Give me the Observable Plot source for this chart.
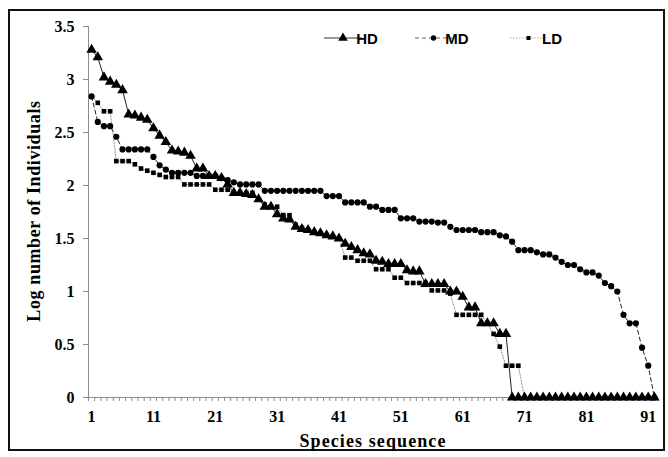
<!DOCTYPE html>
<html>
<head>
<meta charset="utf-8">
<script src="https://cdn.jsdelivr.net/npm/d3@7"></script>
<script src="https://cdn.jsdelivr.net/npm/@observablehq/plot@0.6"></script>
<style>
  html, body { margin: 0; padding: 0; background: #fff; }
  #chart { position: relative; width: 668px; height: 457px; }
</style>
</head>
<body>
<div id="chart"></div>
<script>
// Species rank (category) sequence
const ranks = d3.range(1, 93);
// Axis tick labels
const xTicks = [1, 11, 21, 31, 41, 51, 61, 71, 81, 91];
const yTicks = [0, 0.5, 1, 1.5, 2, 2.5, 3, 3.5];
const seriesNames = ["HD", "MD", "LD"];

// Log number of individuals per rank
const HD = [3.28,3.21,3.02,2.98,2.95,2.90,2.67,2.66,2.64,2.62,
            2.54,2.47,2.41,2.33,2.32,2.31,2.28,2.16,2.16,2.09,
            2.09,2.07,2.01,1.93,1.93,1.92,1.91,1.87,1.80,1.80,
            1.73,1.69,1.68,1.61,1.59,1.58,1.56,1.55,1.53,1.52,
            1.50,1.45,1.42,1.39,1.36,1.35,1.29,1.28,1.26,1.26,
            1.26,1.20,1.19,1.19,1.07,1.07,1.07,1.07,1.00,1.00,
            0.95,0.85,0.85,0.70,0.70,0.70,0.60,0.60,0,0,
            0,0,0,0,0,0,0,0,0,0,
            0,0,0,0,0,0,0,0,0,0,
            0,0];
const MD = [2.84,2.60,2.56,2.56,2.46,2.34,2.34,2.34,2.34,2.34,
            2.27,2.19,2.15,2.12,2.12,2.12,2.12,2.09,2.09,2.09,
            2.09,2.07,2.05,2.03,2.01,2.01,2.01,2.01,1.95,1.95,
            1.95,1.95,1.95,1.95,1.95,1.95,1.95,1.95,1.90,1.90,
            1.90,1.84,1.84,1.84,1.84,1.80,1.80,1.77,1.77,1.77,
            1.69,1.69,1.69,1.66,1.66,1.66,1.65,1.65,1.61,1.58,
            1.58,1.58,1.58,1.56,1.56,1.56,1.53,1.52,1.47,1.39,
            1.39,1.39,1.37,1.35,1.35,1.32,1.28,1.25,1.25,1.21,
            1.18,1.18,1.15,1.08,1.05,1.00,0.78,0.70,0.70,0.47,
            0.30,0];
const LD = [2.84,2.78,2.70,2.70,2.23,2.23,2.23,2.20,2.16,2.14,
            2.12,2.10,2.08,2.08,2.08,2.01,2.01,2.01,2.01,2.01,
            1.96,1.96,1.96,1.93,1.93,1.93,1.93,1.87,1.82,1.80,
            1.80,1.72,1.72,1.63,1.60,1.58,1.56,1.55,1.53,1.52,
            1.50,1.32,1.32,1.29,1.29,1.29,1.21,1.21,1.21,1.13,
            1.13,1.08,1.08,1.08,1.08,1.01,1.01,1.01,0.98,0.78,
            0.78,0.78,0.78,0.78,0.70,0.60,0.48,0.30,0.30,0.30,
            0,0,0,0,0,0,0,0,0,0,
            0,0,0,0,0,0,0,0,0,0,
            0,0];

const rows = (vals) => ranks.map((r, i) => ({rank: r, value: vals[i]}));
const hd = rows(HD), md = rows(MD), ld = rows(LD);
const xBounds = d3.range(0, 93).map(d => d + 0.5);

const axisGray = "#8c8c8c";
const serif = "'Liberation Serif', 'Times New Roman', serif";

const plot = Plot.plot({
  width: 668,
  height: 457,
  marginLeft: 88,
  marginRight: 11,
  marginTop: 26,
  marginBottom: 60,
  x: {domain: [0.5, 92.5]},
  y: {domain: [0, 3.5]},
  style: {fontFamily: serif, fontSize: "16px", fontWeight: "bold", color: "#000", background: "transparent"},
  marks: [
    Plot.ruleX([0.5], {stroke: axisGray}),
    Plot.ruleY([0], {stroke: axisGray}),
    Plot.axisY({ticks: yTicks, tickSize: 5, tickPadding: 9, tickFormat: d => String(d), label: null, stroke: axisGray}),
    Plot.axisX({ticks: xBounds, tickSize: 4, tickFormat: () => "", label: null, stroke: axisGray}),
    Plot.axisX({ticks: xTicks, tickSize: 0, tickPadding: 13, tickFormat: d => String(d), label: null}),
    Plot.line(ld, {x: "rank", y: "value", stroke: "#9a9a9a", strokeWidth: 1, strokeDasharray: "1.5,1.5"}),
    Plot.line(md, {x: "rank", y: "value", stroke: "#222", strokeWidth: 1, strokeDasharray: "4,3"}),
    Plot.line(hd, {x: "rank", y: "value", stroke: "#222", strokeWidth: 1}),
    Plot.dot(ld, {x: "rank", y: "value", symbol: "square", r: 2.6, fill: "#000", stroke: "none"}),
    Plot.dot(md, {x: "rank", y: "value", symbol: "circle", r: 3.1, fill: "#000", stroke: "none"}),
    Plot.dot(hd, {x: "rank", y: "value", symbol: "triangle", r: 3.9, fill: "#000", stroke: "none"})
  ]
});

document.getElementById("chart").appendChild(plot);

const svg = d3.select(plot);
// outer border
svg.insert("rect", ":first-child")
  .attr("x", 9).attr("y", 10).attr("width", 655).attr("height", 440)
  .attr("fill", "#fff").attr("stroke", "#111").attr("stroke-width", 2);

// axis titles
svg.append("text")
  .attr("x", 373).attr("y", 447)
  .attr("text-anchor", "middle")
  .style("font-family", serif).style("font-size", "18px").style("font-weight", "bold")
  .style("letter-spacing", "1.1px")
  .text("Species sequence");
svg.append("text")
  .attr("transform", "translate(40,211) rotate(-90)")
  .attr("text-anchor", "middle")
  .style("font-family", serif).style("font-size", "18px").style("font-weight", "bold")
  .style("letter-spacing", "0.6px")
  .text("Log number of Individuals");

// legend
const legend = svg.append("g").style("font-family", "'Liberation Sans', Arial, sans-serif")
  .style("font-size", "15px").style("font-weight", "bold");
const legendItems = [
  {name: seriesNames[0], x0: 324, x1: 362, stroke: "#333", dash: null, symbol: d3.symbolTriangle, size: 40},
  {name: seriesNames[1], x0: 415, x1: 452, stroke: "#666", dash: "4,3", symbol: d3.symbolCircle, size: 22},
  {name: seriesNames[2], x0: 510, x1: 547, stroke: "#aaa", dash: "1.5,1.5", symbol: d3.symbolSquare, size: 16}
];
legendItems.forEach(it => {
  legend.append("line").attr("x1", it.x0).attr("x2", it.x1).attr("y1", 38).attr("y2", 38)
    .attr("stroke", it.stroke).attr("stroke-width", 1).attr("stroke-dasharray", it.dash);
  legend.append("path").attr("d", d3.symbol(it.symbol, it.size)())
    .attr("transform", `translate(${(it.x0 + it.x1) / 2},38)`).attr("fill", "#000");
  legend.append("text").attr("x", it.x1 + 5).attr("y", 43.5).attr("fill", "#000").text(it.name);
});
</script>
</body>
</html>
